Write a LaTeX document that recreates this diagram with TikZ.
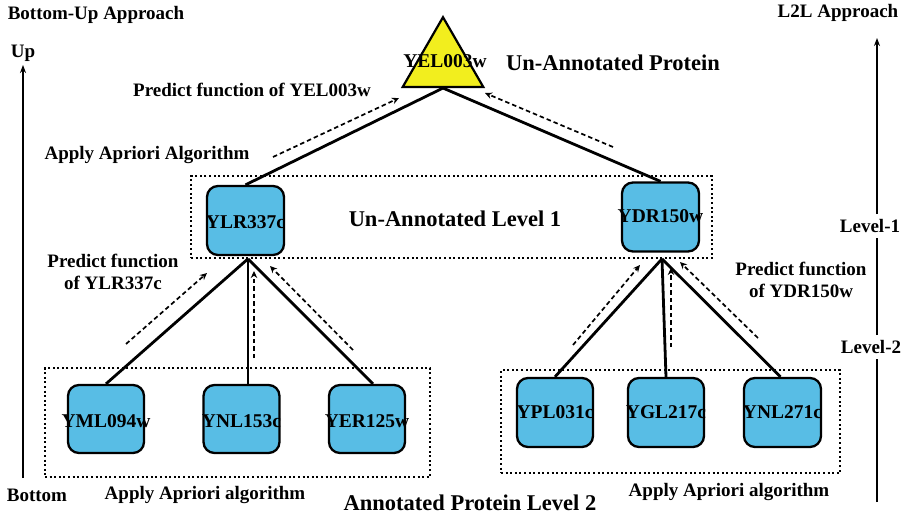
\documentclass[tikz,border=0pt]{standalone}
\usepackage{fontspec}
\setmainfont{Liberation Serif}
\usetikzlibrary{arrows.meta,shapes.geometric,calc}
\definecolor{nodeblue}{RGB}{88,189,229}
\definecolor{triyellow}{RGB}{242,238,30}
\tikzset{
 pbox/.style={draw=black, line width=2.3pt, fill=nodeblue, rounded corners=11pt, minimum width=77pt, minimum height=69pt, inner sep=0pt},
 ptext/.style={font=\bfseries\fontsize{19.5}{22}\selectfont, inner sep=0pt, text height=13pt, text depth=1pt},
 lbl/.style={font=\bfseries\fontsize{19}{22}\selectfont, inner sep=0pt, align=center},
 ttl/.style={font=\bfseries\fontsize{22.5}{26}\selectfont, inner sep=0pt},
 dbox/.style={draw=black, line width=1.7pt, dash pattern=on 2pt off 2.6pt, inner sep=0pt},
 conn/.style={line width=2.8pt},
 flow/.style={line width=1.7pt, dash pattern=on 4.5pt off 3pt, -{Stealth[length=7pt,width=6.5pt]}},
 axis/.style={line width=1.9pt},
}
\begin{document}
\begin{tikzpicture}[x=1pt,y=-1pt]
\useasboundingbox (0,0) rectangle (906,516);

% dashed group boxes
\node[dbox, minimum width=521pt, minimum height=82pt] (l1) at (451.5,217) {};
\node[dbox, minimum width=385pt, minimum height=109pt] (l2a) at (237.5,422.5) {};
\node[dbox, minimum width=339pt, minimum height=103pt] (l2b) at (670.5,421.5) {};

% triangle root
\node[regular polygon, regular polygon sides=3, minimum size=93pt, draw=black, line width=2.2pt, fill=triyellow, inner sep=0pt] (tri) at (443,63.7) {};
\node[ptext] (trit) at (445,62) {YEL003w};

% level 1 nodes
\node[pbox, label={[ptext, yshift=-2pt]center:YLR337c}] (ylr) at (245.5,220.5) {};
\node[pbox, label={[ptext]center:YDR150w}] (ydr) at (660.5,217) {};

% level 2 nodes
\node[pbox, minimum width=76pt, minimum height=68pt, label={[ptext, yshift=-2pt]center:YML094w}] (yml) at (106,419) {};
\node[pbox, minimum width=76pt, minimum height=68pt, label={[ptext, yshift=-2pt]center:YNL153c}] (ynl) at (241.5,419) {};
\node[pbox, minimum width=76pt, minimum height=68pt, label={[ptext, yshift=-2pt]center:YER125w}] (yer) at (367,419) {};
\node[pbox, minimum width=76pt, label={[ptext]center:YPL031c}] (ypl) at (555,412.5) {};
\node[pbox, minimum width=76pt, label={[ptext]center:YGL217c}] (ygl) at (666,412.5) {};
\node[pbox, minimum width=77pt, label={[ptext]center:YNL271c}] (ynr) at (782.5,412.5) {};

% connectors
\draw[conn] (tri.south) -- (ylr.north);
\draw[conn] (tri.south) -- (ydr.north);
\coordinate (j1) at ($(ylr.south |- l1.south)+(2.5,0)$);
\coordinate (j2) at ($(ydr.south |- l1.south)+(1.5,0)$);
\draw[conn] (j1) -- (yml.north);
\draw[conn] (j1) -- (j1 |- ynl.north);
\draw[conn] (j1) -- ($(yer.north)+(6,0)$);
\draw[conn] (j2) -- (ypl.north);
\draw[conn] (j2) -- (ygl.north);
\draw[conn] (j2) -- ($(ynr.north)+(-2,0)$);

% prediction flows
\coordinate (f1s) at (273,157); \coordinate (f1e) at (399,98);
\coordinate (f2s) at (613,147); \coordinate (f2e) at (485,93);
\coordinate (f3s) at (126,344); \coordinate (f3e) at (207,273);
\coordinate (f4s) at (254,358); \coordinate (f4e) at (254,271);
\coordinate (f5s) at (353,350); \coordinate (f5e) at (270,266);
\coordinate (f6s) at (573,345); \coordinate (f6e) at (640,265);
\coordinate (f7s) at (671,347); \coordinate (f7e) at (671,268);
\coordinate (f8s) at (758,338); \coordinate (f8e) at (680,262);
\foreach \i in {1,...,8} {\draw[flow] (f\i s) -- (f\i e);}

% texts
\node[ttl] (t1) at (613,63) {Un-Annotated Protein};
\node[ttl] (t2) at (455,219) {Un-Annotated Level 1};
\node[ttl] (t3) at (470,503) {Annotated Protein Level 2};
\node[lbl] (p1) at (252,90) {Predict function of YEL003w};
\node[lbl] (p2) at (147,155) {Apply Apriori Algorithm};
\node[lbl] (p3) at (113,272) {Predict function\\of YLR337c};
\node[lbl] (p4) at (801,280) {Predict function\\of YDR150w};
\node[lbl] (p5) at (205,495) {Apply Apriori algorithm};
\node[lbl] (p6) at (729,492) {Apply Apriori algorithm};
\node[lbl] (bu) at (96,15) {Bottom-Up Approach};
\node[lbl] (l2l) at (838,13) {L2L Approach};
\node[lbl] (up) at (23,53) {Up};
\node[lbl] (bot) at (37,495) {Bottom};
\node[lbl, inner ysep=5pt] (lv1) at (870,226) {Level-1};
\node[lbl, inner ysep=5pt] (lv2) at (871,347) {Level-2};

% axes
\coordinate (lb) at (23,478);
\coordinate (lt) at (23,65);
\draw[axis,-{Stealth[length=8pt,width=6pt]}] (lb) -- (lt);
\coordinate (rb) at (877,502);
\coordinate (rt) at (877,38);
\draw[axis] (rb) -- (rb |- lv2.south);
\draw[axis] (rb |- lv2.north) -- (rb |- lv1.south);
\draw[axis,-{Stealth[length=8pt,width=6pt]}] (rb |- lv1.north) -- (rt);
\end{tikzpicture}
\end{document}
